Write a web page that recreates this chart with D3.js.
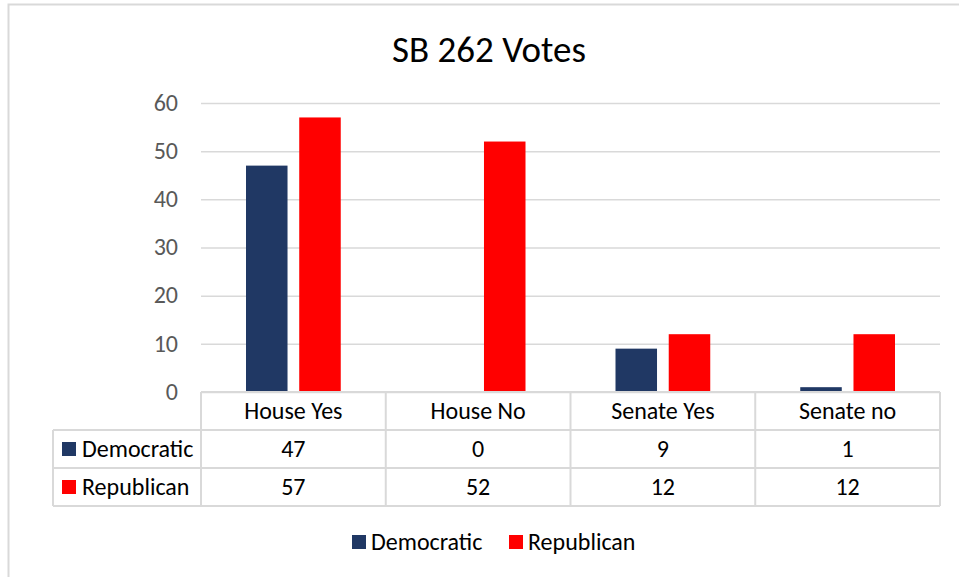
<!DOCTYPE html>
<html>
<head>
<meta charset="utf-8">
<script src="https://cdn.jsdelivr.net/npm/d3@7"></script>
<style>
  body { margin: 0; background: #fff; }
  svg { display: block; font-family: Carlito, Calibri, "Open Sans", sans-serif; }
</style>
</head>
<body>
<svg id="chart" width="959" height="577"></svg>
<script>
; (function () {

    // data
    var categories = ["House Yes", "House No", "Senate Yes", "Senate no"]
    var seriesNames = ["Democratic", "Republican"]
    var seriesColors = ["#203864", "#ff0000"]
    var democratic = [47, 0, 9, 1]
    var republican = [57, 52, 12, 12]
    var yTicks = [0, 10, 20, 30, 40, 50, 60]

    var values = [democratic, republican]

    var svg = d3.select("#chart")
    var margin = { top: 103, left: 201, right: 19 }
    var width = 959 - margin.left - margin.right,
        height = 392 - margin.top,
        rowH = 38,
        tableLeft = 53,
        fs = 24

    // outer frame (only top and left edges show)
    svg.append("path")
        .attr("d", "M8.5,577 V4.5 H959")
        .attr("fill", "none")
        .attr("stroke", "#d9d9d9")
        .attr("stroke-width", 2)

    svg.append("text")
        .attr("x", 489).attr("y", 62)
        .attr("text-anchor", "middle")
        .attr("font-size", 37)
        .attr("fill", "#000")
        .text("SB 262 Votes")

    var g = svg.append("g").attr("transform", "translate(" + margin.left + "," + margin.top + ")")

    var x = d3.scaleBand().domain(categories).range([0, width])
    var x1 = d3.scaleBand().domain(seriesNames).range([45, x.bandwidth() - 45]).paddingInner(0.22)
    var y = d3.scaleLinear().domain([0, 60]).range([height, 0])

    // gridlines + y labels
    var yAxis = g.append("g")
        .call(d3.axisLeft(y).tickValues(yTicks).tickSize(-width).tickPadding(23))
    yAxis.select(".domain").remove()
    yAxis.selectAll(".tick line").attr("stroke", "#d9d9d9").attr("stroke-width", 1.5)
    yAxis.selectAll(".tick text")
        .attr("fill", "#595959")
        .attr("font-size", fs)
        .attr("dy", "0.3em")
        .attr("font-family", "Carlito, Calibri, 'Open Sans', sans-serif")

    // bars
    var groups = g.selectAll(".grp")
        .data(categories)
        .enter().append("g")
        .attr("class", "grp")
        .attr("transform", function (d) { return "translate(" + x(d) + ",0)" })

    groups.selectAll("rect")
        .data(function (d, i) {
            return seriesNames.map(function (s, k) { return { s: s, k: k, v: values[k][i] } })
        })
        .enter().append("rect")
        .attr("x", function (d) { return x1(d.s) })
        .attr("y", function (d) { return y(d.v) })
        .attr("width", x1.bandwidth())
        .attr("height", function (d) { return height - y(d.v) })
        .attr("fill", function (d) { return seriesColors[d.k] })

    // data table under the plot
    var t = svg.append("g").attr("transform", "translate(0," + (margin.top + height) + ")")
    var lineCol = "#d9d9d9"

    function hline(x0, x1_, yy) {
        t.append("line").attr("x1", x0).attr("x2", x1_).attr("y1", yy).attr("y2", yy)
            .attr("stroke", lineCol).attr("stroke-width", 2)
    }
    function vline(xx, y0, y1) {
        t.append("line").attr("x1", xx).attr("x2", xx).attr("y1", y0).attr("y2", y1)
            .attr("stroke", lineCol).attr("stroke-width", 2)
    }

    hline(margin.left, margin.left + width, 0)
    hline(tableLeft, margin.left + width, rowH)
    hline(tableLeft, margin.left + width, rowH * 2)
    hline(tableLeft, margin.left + width, rowH * 3)
    vline(tableLeft, rowH, rowH * 3)
    categories.forEach(function (c) { vline(margin.left + x(c), 0, rowH * 3) })
    vline(margin.left + width, 0, rowH * 3)

    t.selectAll(".cat")
        .data(categories)
        .enter().append("text")
        .attr("x", function (d) { return margin.left + x(d) + x.bandwidth() / 2 })
        .attr("y", rowH / 2 + 8)
        .attr("text-anchor", "middle")
        .attr("font-size", fs)
        .text(function (d) { return d })

    seriesNames.forEach(function (s, k) {
        var yy = rowH * (k + 1)
        t.append("rect")
            .attr("x", tableLeft + 9).attr("y", yy + rowH / 2 - 7)
            .attr("width", 14).attr("height", 14)
            .attr("fill", seriesColors[k])
        t.append("text")
            .attr("x", tableLeft + 29).attr("y", yy + rowH / 2 + 8)
            .attr("font-size", fs)
            .text(s)
        t.selectAll(".v" + k)
            .data(values[k])
            .enter().append("text")
            .attr("x", function (d, i) { return margin.left + x(categories[i]) + x.bandwidth() / 2 })
            .attr("y", yy + rowH / 2 + 8)
            .attr("text-anchor", "middle")
            .attr("font-size", fs)
            .text(function (d) { return d })
    })

    // legend
    var legend = svg.append("g").attr("transform", "translate(352,542)")
    var legX = [0, 157]
    seriesNames.forEach(function (s, k) {
        legend.append("rect")
            .attr("x", legX[k]).attr("y", -7)
            .attr("width", 14).attr("height", 14)
            .attr("fill", seriesColors[k])
        legend.append("text")
            .attr("x", legX[k] + 19).attr("y", 8)
            .attr("font-size", fs)
            .text(s)
    })

})();
</script>
</body>
</html>
